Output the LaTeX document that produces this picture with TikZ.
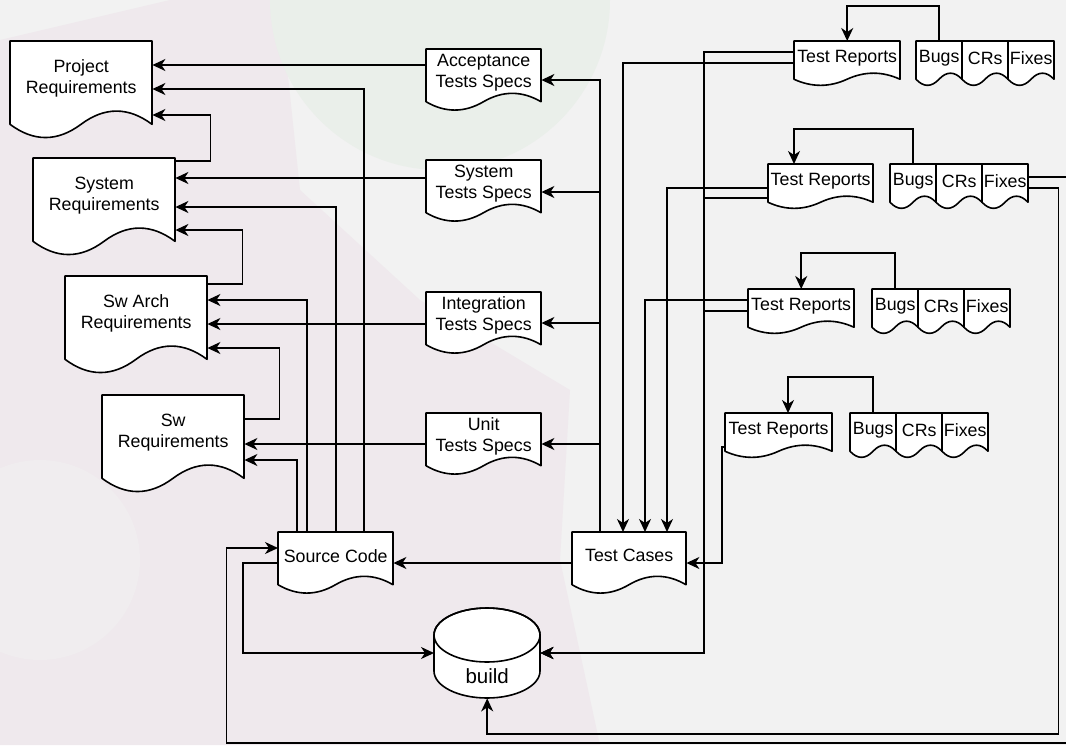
\documentclass[tikz,border=0pt]{standalone}
\usepackage{fontspec}
\setmainfont{Liberation Sans}
\usetikzlibrary{arrows.meta,calc}

\definecolor{bgc}{HTML}{F2F2F2}
\definecolor{pinkwm}{HTML}{EFE9ED}
\definecolor{greenwm}{HTML}{EAEFEA}

% document shape with wavy bottom, then its label node on top
\newcommand{\docshape}[6]{%
  \filldraw[docline] (#2,#3) -- ({#2+#4},#3) -- ({#2+#4},{#3+0.85*#5})
    .. controls ({#2+5*#4/6},{#3+0.67*#5}) and ({#2+2*#4/3},{#3+0.67*#5}) .. ({#2+#4/2},{#3+0.85*#5})
    .. controls ({#2+#4/3},{#3+1.03*#5}) and ({#2+#4/6},{#3+1.03*#5}) .. (#2,{#3+0.85*#5}) -- cycle;
  \node[lbl, minimum width=#4, minimum height={0.76*#5}, anchor=north west] (#1) at (#2,#3) {#6};
}

\begin{document}
\begin{tikzpicture}[x=1pt, y=-1pt, >={Stealth[length=13pt,width=12pt,inset=4pt]},
    docline/.style={draw=black, fill=white, line width=1.6pt, line join=round},
    lbl/.style={inner sep=0pt, align=center, font=\fontsize{17.8}{21}\selectfont},
    link/.style={->, line width=1.6pt}]

  % background and faint watermark
  \fill[bgc] (0,0) rectangle (1066,745);
  \useasboundingbox (0,0) rectangle (1066,745);
  \fill[pinkwm] (0,40) -- (170,0) -- (280,0) -- (300,190) -- (420,300) -- (570,390)
    -- (560,560) -- (600,745) -- (0,745) -- cycle;
  \fill[bgc!50!pinkwm] (40,560) circle (100);
  \fill[greenwm] (440,0) circle (170);

  % requirements and specs
  \foreach \n/\x/\y/\w/\h/\t in {projreq/10/41/142/98/{Project\\Requirements},
      sysreq/33/158/142/98/{System\\Requirements},
      swarch/65/276/142/98/{Sw Arch\\Requirements},
      swreq/102/395/142/98/{Sw\\Requirements},
      accspec/426/49/115/62/{Acceptance\\Tests Specs},
      sysspec/426/160/115/62/{System\\Tests Specs},
      intspec/426/292/115/62/{Integration\\Tests Specs},
      unitspec/426/413/115/62/{Unit\\Tests Specs},
      src/278/532/115/62/{Source Code},
      tc/572/532/114/62/{Test Cases},
      rep1/794/41/106/45/{Test Reports},
      rep2/768/164/105/45/{Test Reports},
      rep3/748/289/106/45/{Test Reports},
      rep4/725/413/107/45/{Test Reports}}
    {\docshape{\n}{\x}{\y}{\w}{\h}{\t}}

  % bugs / crs / fixes
  \foreach \g/\x/\y in {1/916/41, 2/890/164, 3/872/289, 4/850/413}
    \foreach \k/\t [count=\i from 0] in {bugs/Bugs, crs/CRs, fixes/Fixes}
      {\docshape{\k\g}{\x+46*\i}{\y}{46}{45}{\t}}

  % build
  \filldraw[docline] (434,635) -- (434,671) arc[start angle=180, end angle=0, x radius=53, y radius=27]
    -- (540,635) arc[start angle=360, end angle=180, x radius=53, y radius=27] -- cycle;
  \draw[line width=1.6pt] (487,635) ellipse [x radius=53, y radius=27];
  \node[lbl, font=\fontsize{20.5}{24}\selectfont, minimum width=106, minimum height=45,
    anchor=north west] (build) at (434,653) {build};

  % specs to requirements
  \draw[link] ([yshift=-16pt]accspec.north west) -- ([yshift=-24pt]projreq.north east);
  \draw[link] ([yshift=-18pt]sysspec.north west) -- ([yshift=-20pt]sysreq.north east);
  \draw[link] ([yshift=-32pt]intspec.north west) -- ([yshift=-48pt]swarch.north east);
  \draw[link] ([yshift=-31pt]unitspec.north west) -- ([yshift=-49pt]swreq.north east);

  % requirements upwards
  \draw[link] ([yshift=-3pt]sysreq.north east) -- ++(35,0) |- ([yshift=-74pt]projreq.north east);
  \draw[link] ([yshift=-8pt]swarch.north east) -- ++(35,0) |- ([yshift=-72pt]sysreq.north east);
  \draw[link] ([yshift=-24pt]swreq.north east) -- ++(35,0) |- ([yshift=-72pt]swarch.north east);

  % source code to requirements
  \draw[link] ([xshift=19pt]src.north west) |- ([yshift=-65pt]swreq.north east);
  \draw[link] ([xshift=29pt]src.north west) |- ([yshift=-24pt]swarch.north east);
  \draw[link] ([xshift=58pt]src.north west) |- ([yshift=-49pt]sysreq.north east);
  \draw[link] ([xshift=86pt]src.north west) |- ([yshift=-48pt]projreq.north east);

  % test cases to specs
  \foreach \s/\d in {accspec/31, sysspec/32, intspec/31, unitspec/31}
    \draw[link] ([xshift=28pt]tc.north west) |- ([yshift=-\d pt]\s.north east);
  \draw[link] ([yshift=-31pt]tc.north west) -- ([yshift=-31pt]src.north east);
  \draw[link] ([yshift=-31pt]src.north west) -- ++(-35,0) |- (build.north west);

  % test reports
  \draw[link] ([yshift=-22pt]rep1.north west) -| ([xshift=51pt]tc.north west);
  \draw[link] ([yshift=-24pt]rep2.north west) -| ([xshift=95pt]tc.north west);
  \draw[link] ([yshift=-11pt]rep3.north west) -| ([xshift=73pt]tc.north west);
  \draw[link] ([yshift=-34pt]rep4.north west) -- ++(-3,0) |- ([yshift=-31pt]tc.north east);
  \draw[link] ([yshift=-11pt]rep1.north west) -- ++(-90,0) |- (build.north east);
  \draw[link] ([yshift=-34pt]rep2.north west) -- ++(-64,0) |- (build.north east);
  \draw[link] ([yshift=-22pt]rep3.north west) -- ++(-44,0) |- (build.north east);

  % bugs back to reports
  \draw[link] (bugs1.north) -- ++(0,-35) -| (rep1.north);
  \draw[link] (bugs2.north) -- ++(0,-35) -| ([xshift=26pt]rep2.north west);
  \draw[link] (bugs3.north) -- ++(0,-36) -| (rep3.north);
  \draw[link] (bugs4.north) -- ++(0,-36) -| ([xshift=63pt]rep4.north west);

  % fixes back to build and source code
  \draw[link] ([yshift=-24pt]fixes2.north east) -- ++(30,0) -- ++(0,546) -| (build.south);
  \draw[link] ([yshift=-13pt]fixes2.north east) -- ++(42,0) -- ++(0,566) -- ++(-844,0)
    |- ([yshift=-16pt]src.north west);
\end{tikzpicture}
\end{document}
